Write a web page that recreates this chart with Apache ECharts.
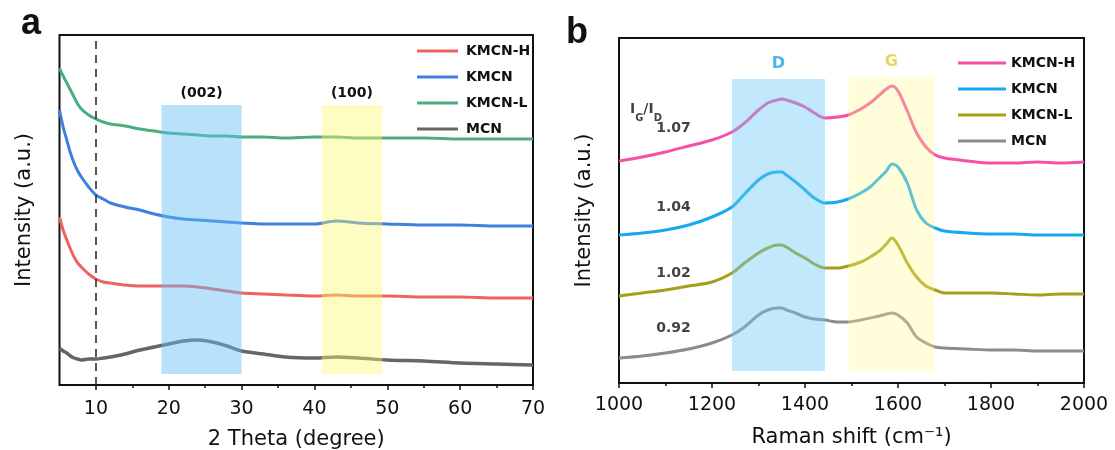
<!DOCTYPE html>
<html>
<head>
<meta charset="utf-8">
<script src="https://cdn.jsdelivr.net/npm/echarts@6/dist/echarts.min.js"></script>
<style>
html,body{margin:0;padding:0;background:#fff;}
#chart{width:1115px;height:450px;}
</style>
</head>
<body>
<div id="chart"></div>
<script>
// ---------- Panel a : XRD ----------
const xrdTheta = [5,5.5,6,6.5,7,7.5,8,9,10,11,12,14,16,18,20,22,24,26,28,30,33,36,40,43,46,50,55,60,65,70];
const xrdKMCNH = [168,155,145,136,128,122,118,111,106,103,102,100,99,99,99,99,98,96,94,92,91,90,89,90,89,89,88,88,87,87];
const xrdKMCN  = [275,258,245,232,222,214,208,198,190,186,182,178,175,171,168,166,165,164,163,162,161,161,161,164,162,161,160,160,159,159];
const xrdKMCNL = [317,309,302,295,288,281,276,270,266,263,261,259,256,254,252,251,250,249,249,248,248,247,248,248,247,247,247,246,246,246];
const xrdMCN   = [37,34,32,29,27,26,25,26,26,27,28,31,35,38,41,44,45,43,39,34,31,28,27,28,27,25,24,22,21,20];
const xrdTickLabels = [10,20,30,40,50,60,70];
const xrdMinorTicks = [15,25,35,45,55,65];
const xrdBands = [
  {name:'(002)', from:19, to:30, low:11, high:280},
  {name:'(100)', from:41, to:49.3, low:11, high:280}
];
const xrdRefLine = 10;
const seriesNames = ['KMCN-H','KMCN','KMCN-L','MCN'];

// ---------- Panel b : Raman ----------
const ramanShift = [1000,1050,1100,1150,1200,1243,1270,1300,1320,1340,1350,1360,1380,1400,1420,1443,1470,1493,1520,1540,1560,1575,1587,1600,1620,1640,1660,1680,1700,1750,1800,1850,1900,1950,2000];
const ramanKMCNH = [222,226,231,237,243,251,260,273,280,283,284,283,280,276,270,265,266,268,274,280,288,294,297,292,272,250,236,228,225,222,220,220,221,220,221];
const ramanKMCN  = [148,150,153,158,166,176,189,203,209,211,211,208,201,193,185,180,181,184,190,196,205,212,219,216,200,173,160,155,152,150,149,149,148,148,148];
const ramanKMCNL = [87,90,93,97,101,110,120,130,135,138,138,136,130,125,119,115,115,117,121,126,132,139,145,138,120,106,97,93,90,90,90,89,88,89,89];
const ramanMCN   = [25,27,30,34,40,48,56,68,73,75,75,73,70,66,64,63,61,61,63,65,67,69,70,68,60,46,40,36,35,34,33,33,32,32,32];
const ramanBands = [
  {name:'D', from:1243, to:1443, low:12, high:304},
  {name:'G', from:1493, to:1678, low:12, high:306}
];
const igIdRatios = ['1.07','1.04','1.02','0.92'];

function pairs(xs, ys){ return xs.map((x,i)=>[x, ys[i]]); }

const colorsA = ['#ef625e','#3f7fe0','#4cae7e','#666666'];
const colorsB = ['#f74fa8','#14a9f0','#a59f1c','#8c8c8c'];
const FONT = 'DejaVu Sans';

const chart = echarts.init(document.getElementById('chart'), null, {renderer:'canvas'});

const dataA = [xrdKMCNH, xrdKMCN, xrdKMCNL, xrdMCN];
const dataB = [ramanKMCNH, ramanKMCN, ramanKMCNL, ramanMCN];

const series = [];
seriesNames.forEach((n,i)=>{
  series.push({
    type:'line', name:n, xAxisIndex:0, yAxisIndex:0,
    data: pairs(xrdTheta, dataA[i]), showSymbol:false, smooth:0.3,
    lineStyle:{color:colorsA[i], width: i===3 ? 3.5 : 3}, itemStyle:{color:colorsA[i]},
    z:2, silent:true
  });
});
const bandColorsA = ['rgba(100,190,245,0.45)','rgba(250,248,110,0.42)'];
series.push({
  type:'line', xAxisIndex:0, yAxisIndex:0, data:[], z:10, silent:true,
  markArea:{
    silent:true, z:10,
    data: xrdBands.map((b,i)=>[
      {name:b.name, xAxis:b.from, yAxis:b.low, itemStyle:{color:bandColorsA[i]},
       label:{show:true, position:'top', distance:5, color:'#111', fontWeight:'bold', fontSize:14, fontFamily:FONT}},
      {xAxis:b.to, yAxis:b.high}
    ])
  },
  markLine:{
    silent:true, z:11, symbol:['none','none'],
    label:{show:false},
    lineStyle:{color:'#222', type:[8,6], width:1.5},
    data:[{xAxis:xrdRefLine}]
  }
});

seriesNames.forEach((n,i)=>{
  series.push({
    type:'line', name:n + ' ', xAxisIndex:2, yAxisIndex:1,
    data: pairs(ramanShift, dataB[i]), showSymbol:false, smooth:0.3,
    lineStyle:{color:colorsB[i], width:3}, itemStyle:{color:colorsB[i]},
    z:2, silent:true
  });
});
const bandColorsB = ['rgba(110,200,245,0.42)','rgba(255,248,140,0.32)'];
const bandLabelColorsB = ['#4cb6ea','#e4d75a'];
series.push({
  type:'line', xAxisIndex:2, yAxisIndex:1, data:[], z:10, silent:true,
  markArea:{
    silent:true, z:10,
    data: ramanBands.map((b,i)=>[
      {name:b.name, xAxis:b.from, yAxis:b.low, itemStyle:{color:bandColorsB[i]},
       label:{show:true, position:'top', distance:7, color:bandLabelColorsB[i], fontWeight:'bold', fontSize:16, fontFamily:FONT}},
      {xAxis:b.to, yAxis:b.high}
    ])
  }
});
// ratio annotations
const ratioY = [255,176,110,55];
series.push({
  type:'scatter', xAxisIndex:2, yAxisIndex:1, symbolSize:0, z:12, silent:true,
  data: igIdRatios.map((t,i)=>({value:[1117, ratioY[i]], name:t})),
  label:{show:true, position:'inside', formatter:p=>p.name, color:'#111', fontWeight:'bold', fontSize:14, fontFamily:FONT}
});
series.push({
  type:'scatter', xAxisIndex:2, yAxisIndex:1, symbolSize:0, z:12, silent:true,
  data:[{value:[1058, 274], name:'IG/ID'}],
  label:{show:true, position:'inside', formatter:'{i|I}{s|G}{i|/I}{s|D}', color:'#111',
    rich:{
      i:{fontSize:14, fontWeight:'bold', fontFamily:FONT, color:'#111', lineHeight:18, verticalAlign:'middle'},
      s:{fontSize:10, fontWeight:'bold', fontFamily:FONT, color:'#111', lineHeight:10, verticalAlign:'bottom', padding:[0,0,-5,0]}
    }}
});

const axisNameStyle = {fontSize:21, fontFamily:FONT, color:'#111'};
const tickLabelStyle = {fontSize:19, fontFamily:FONT, color:'#111'};

chart.setOption({
  animation:false,
  backgroundColor:'#fff',
  graphic:[
    {type:'text', left:21, top:6, style:{text:'a', font:'bold 36px "Liberation Sans", Arial', fill:'#111'}},
    {type:'text', left:566, top:15, style:{text:'b', font:'bold 36px "Liberation Sans", Arial', fill:'#111'}}
  ],
  legend:[
    {
      data: seriesNames, orient:'vertical', left:412, top:38, itemWidth:41, itemHeight:3, itemGap:10,
      icon:'rect', selectedMode:false,
      textStyle:{fontSize:14, fontWeight:'bold', fontFamily:FONT, color:'#111', lineHeight:16, padding:[0,0,0,3]}
    },
    {
      data: seriesNames.map(n=>({name:n+' '})), orient:'vertical', left:953, top:50, itemWidth:48, itemHeight:3, itemGap:10,
      icon:'rect', selectedMode:false,
      formatter: n=>n.trim(),
      textStyle:{fontSize:14, fontWeight:'bold', fontFamily:FONT, color:'#111', lineHeight:16}
    }
  ],
  grid:[
    {left:59.5, right:582, top:35, bottom:65, show:true, borderColor:'#111', borderWidth:2, backgroundColor:'transparent', outerBoundsMode:'none', containLabel:false},
    {left:619, right:31, top:38, bottom:67, show:true, borderColor:'#111', borderWidth:2, backgroundColor:'transparent', outerBoundsMode:'none', containLabel:false}
  ],
  xAxis:[
    {
      type:'value', gridIndex:0, min:5, max:70,
      name:'2 Theta (degree)', nameLocation:'middle', nameGap:44, nameTextStyle:axisNameStyle,
      axisLine:{show:false},
      axisTick:{show:true, inside:false, length:5, lineStyle:{color:'#111', width:1.5}, customValues:xrdTickLabels},
      axisLabel:{show:true, margin:15, customValues:xrdTickLabels, formatter:v=>String(v), ...tickLabelStyle},
      splitLine:{show:false}
    },
    {
      type:'value', gridIndex:0, min:5, max:70, position:'bottom',
      axisLine:{show:false},
      axisTick:{show:true, inside:false, length:3, lineStyle:{color:'#111', width:1.5}, customValues:xrdMinorTicks},
      axisLabel:{show:false},
      splitLine:{show:false}
    },
    {
      type:'value', gridIndex:1, min:1000, max:2000, interval:200,
      name:'Raman shift (cm⁻¹)', nameLocation:'middle', nameGap:44, nameTextStyle:axisNameStyle,
      axisLine:{show:false},
      axisTick:{show:true, inside:false, length:5, lineStyle:{color:'#111', width:1.5}},
      minorTick:{show:true, splitNumber:2, length:3, lineStyle:{color:'#111', width:1.5}},
      axisLabel:{show:true, margin:13, formatter:v=>String(v), ...tickLabelStyle},
      splitLine:{show:false}, minorSplitLine:{show:false}
    }
  ],
  yAxis:[
    {
      type:'value', gridIndex:0, min:0, max:350,
      name:'Intensity (a.u.)', nameLocation:'middle', nameGap:24, nameTextStyle:axisNameStyle,
      axisLine:{show:false}, axisTick:{show:false}, axisLabel:{show:false}, splitLine:{show:false}
    },
    {
      type:'value', gridIndex:1, min:0, max:345,
      name:'Intensity (a.u.)', nameLocation:'middle', nameGap:24, nameTextStyle:axisNameStyle,
      axisLine:{show:false}, axisTick:{show:false}, axisLabel:{show:false}, splitLine:{show:false}
    }
  ],
  series: series
});
</script>
</body>
</html>
